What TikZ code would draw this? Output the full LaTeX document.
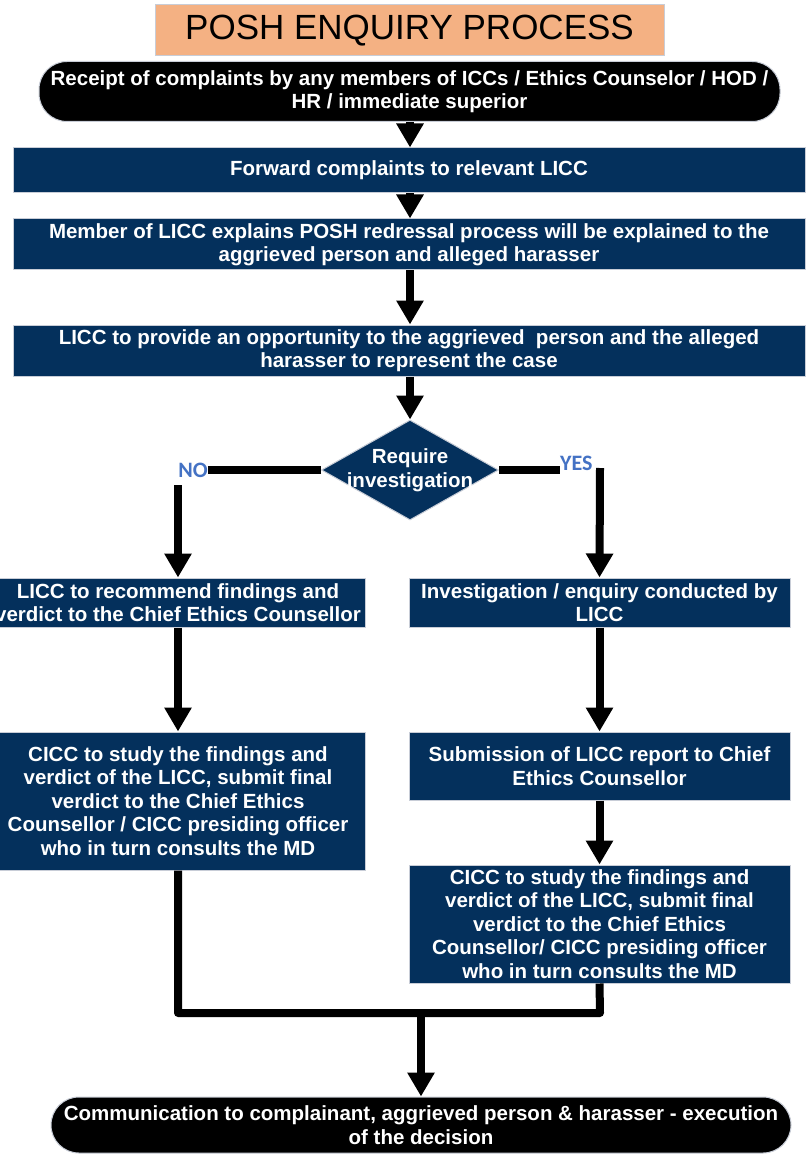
\documentclass[tikz,border=0pt]{standalone}
\usepackage{fontspec}
\setmainfont{Liberation Sans}
\newfontfamily\calfont{Carlito}
\usetikzlibrary{arrows.meta,shapes.geometric}
\definecolor{navy}{RGB}{4,48,92}
\definecolor{salmon}{RGB}{244,177,131}
\definecolor{lblue}{RGB}{68,114,196}
\definecolor{edgegray}{RGB}{200,205,215}
\tikzset{
  box/.style={rectangle, fill=navy, draw=edgegray, line width=1pt, text=white,
    font=\bfseries\fontsize{20.5}{23.5}\selectfont, align=center, inner sep=0pt},
  term/.style={rectangle, rounded corners=28pt, fill=black, draw=edgegray, line width=1pt,
    text=white, font=\bfseries\fontsize{20.5}{23.5}\selectfont, align=center, inner sep=0pt},
  flow/.style={line width=8pt, draw=black},
  arr/.style={flow, -{Triangle[width=26pt,length=24pt]}},
  yn/.style={text=lblue, font=\calfont\bfseries\fontsize{22}{24}\selectfont, inner sep=0pt}
}
\begin{document}
\begin{tikzpicture}[x=1pt,y=-1pt]
\useasboundingbox (0,0) rectangle (807,1155);
\fill[white] (0,0) rectangle (807,1155);
\node[rectangle, fill=salmon, draw=edgegray, line width=1pt, minimum width=509pt, minimum height=51pt,
  font=\fontsize{35}{40}\selectfont, inner sep=0pt] (title) at (409.5,30.5) {POSH ENQUIRY PROCESS};
\node[term, minimum width=741pt, minimum height=60pt] (start) at (409.5,91.5)
  {Receipt of complaints by any members of ICCs / Ethics Counselor / HOD /\\HR / immediate superior};
\node[box, minimum width=792pt, minimum height=45pt] (b1) at (409,170.5) {Forward complaints to relevant LICC};
\node[box, minimum width=792pt, minimum height=51pt] (b2) at (409,244.5)
  {Member of LICC explains POSH redressal process will be explained to the\\aggrieved person and alleged harasser};
\node[box, minimum width=792pt, minimum height=51pt] (b3) at (409,350.5)
  {LICC to provide an opportunity to the aggrieved\ \ person and the alleged\\harasser to represent the case};
\node[diamond, fill=navy, draw=edgegray, line width=1pt, minimum width=177pt, minimum height=100pt, inner sep=0pt] (dia) at (410,470) {};
\node[text=white, font=\bfseries\fontsize{20.5}{23.5}\selectfont, align=center, inner sep=0pt] (diat) at (dia.center) {Require\\investigation};
\node[yn, anchor=east] (no) at (208,470) {NO};
\node[yn, anchor=west] (yes) at (560,463) {YES};
\coordinate (ycorner) at (600,468);
\node[box, minimum width=374pt, minimum height=49pt] (L1) at (178,602.5)
  {LICC to recommend findings and\\verdict to the Chief Ethics Counsellor};
\node[box, minimum width=381pt, minimum height=49pt] (R1) at (599.5,602.5)
  {Investigation / enquiry conducted by\\LICC};
\node[box, minimum width=374pt, minimum height=138pt] (L2) at (178,801)
  {CICC to study the findings and\\verdict of the LICC, submit final\\verdict to the Chief Ethics\\Counsellor / CICC presiding officer\\who in turn consults the MD};
\node[box, minimum width=381pt, minimum height=68pt] (R2) at (599.5,766)
  {Submission of LICC report to Chief\\Ethics Counsellor};
\node[box, minimum width=381pt, minimum height=118pt] (R3) at (599.5,924)
  {CICC to study the findings and\\verdict of the LICC, submit final\\verdict to the Chief Ethics\\Counsellor/ CICC presiding officer\\who in turn consults the MD};
\node[term, minimum width=740pt, minimum height=56pt] (end) at (421,1125)
  {Communication to complainant, aggrieved person \& harasser - execution\\of the decision};
\coordinate (mL) at (178,1013);
\coordinate (mR) at (600,1013);
\coordinate (mM) at (421,1013);
\draw[arr] (start.south -| 410,0) -- (b1.north -| 410,0);
\draw[arr] (b1.south -| 410,0) -- (b2.north -| 410,0);
\draw[arr] (b2.south -| 410,0) -- (b3.north -| 410,0);
\draw[arr] (b3.south -| 410,0) -- (dia.north);
\draw[flow] (dia.west) -- (no.east);
\draw[arr] (L1.north |- 0,485) -- (L1.north);
\draw[flow] (dia.east) -- (yes.west |- dia.east);
\draw[arr] (ycorner) -- (R1.north);
\draw[arr] (L1.south) -- (L2.north);
\draw[arr] (R1.south) -- (R2.north);
\draw[arr] (R2.south) -- (R3.north);
\draw[flow, line join=round] (L2.south) -- (mL) -- (mR) -- (R3.south);
\draw[arr] (mM) -- (end.north);
\end{tikzpicture}
\end{document}
